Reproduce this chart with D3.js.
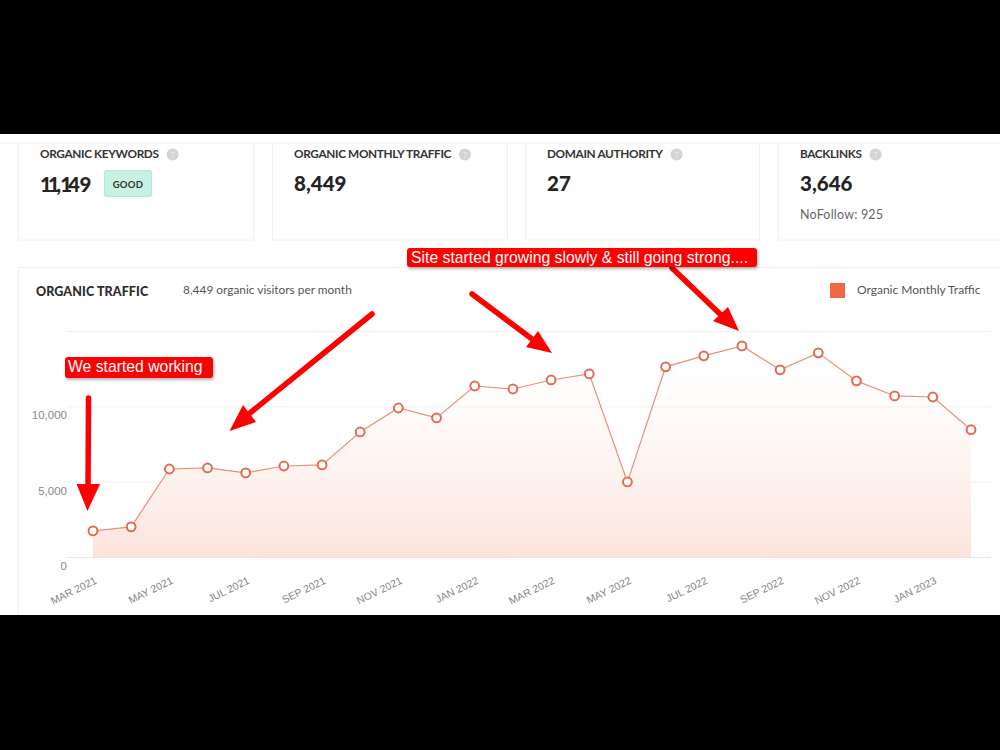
<!DOCTYPE html>
<html>
<head>
<meta charset="utf-8">
<script src="https://cdnjs.cloudflare.com/ajax/libs/d3/7.8.5/d3.min.js"></script>
<style>
html,body{margin:0;padding:0;background:#000;}
svg{display:block;}
</style>
</head>
<body>
<svg id="chart" width="1000" height="750"></svg>
<script>
// Monthly organic traffic, March 2021 to February 2023
const months = ["MAR 2021","APR 2021","MAY 2021","JUN 2021","JUL 2021","AUG 2021","SEP 2021","OCT 2021","NOV 2021","DEC 2021","JAN 2022","FEB 2022","MAR 2022","APR 2022","MAY 2022","JUN 2022","JUL 2022","AUG 2022","SEP 2022","OCT 2022","NOV 2022","DEC 2022","JAN 2023","FEB 2023"];
const traffic = [1730,2000,5840,5910,5580,6040,6110,8300,9890,9230,11350,11150,11750,12150,4980,12620,13350,14010,12420,13550,11690,10690,10620,8449];
const labelledMonths = ["MAR 2021","MAY 2021","JUL 2021","SEP 2021","NOV 2021","JAN 2022","MAR 2022","MAY 2022","JUL 2022","SEP 2022","NOV 2022","JAN 2023"];
const yTicks = [0,5000,10000,15000];

// Summary cards above the chart
const cardLefts = [18,272,525,778];
const cardWidths = [236,236,235,240];
const cardTitles = ["ORGANIC KEYWORDS","ORGANIC MONTHLY TRAFFIC","DOMAIN AUTHORITY","BACKLINKS"];
const cardValues = ["11,149","8,449","27","3,646"];

const svg = d3.select("#chart");
const bodyFont = "Lato, 'Open Sans', sans-serif";
const axisFont = "'Liberation Sans', Arial, sans-serif";

const defs = svg.append("defs");
const grad = defs.append("linearGradient").attr("id","areaFill").attr("x1",0).attr("y1",0).attr("x2",0).attr("y2",1);
grad.append("stop").attr("offset","0%").attr("stop-color","#ffffff");
grad.append("stop").attr("offset","28%").attr("stop-color","#fffcfb");
grad.append("stop").attr("offset","64%").attr("stop-color","#fef2ee");
grad.append("stop").attr("offset","100%").attr("stop-color","#fce4dc");

const shadow = defs.append("filter").attr("id","tagShadow").attr("x","-5%").attr("y","-20%").attr("width","110%").attr("height","150%");
shadow.append("feDropShadow").attr("dx",1).attr("dy",2).attr("stdDeviation",1.5).attr("flood-color","#000").attr("flood-opacity",0.3);

// White page band between the black bars
svg.append("rect").attr("x",0).attr("y",134).attr("width",1000).attr("height",481).attr("fill","#fff");
svg.append("line").attr("x1",0).attr("x2",1000).attr("y1",143).attr("y2",143).attr("stroke","#f1f1f1");

// Summary cards
const cards = svg.append("g").selectAll("g").data(cardTitles).join("g")
  .attr("transform",(d,i)=>`translate(${cardLefts[i]},143)`);
cards.append("path")
  .attr("d",(d,i)=>`M0.5,0V97H${cardWidths[i]-0.5}V0`)
  .attr("fill","none").attr("stroke","#f0f0f0");
cards.append("text").attr("x",22).attr("y",14.5)
  .attr("font-family",bodyFont).attr("font-weight",700).attr("font-size",11.8)
  .attr("letter-spacing",-0.35).attr("fill","#333").text(d=>d);
cards.each(function(d,i){
  const g = d3.select(this);
  const w = g.select("text").node().getComputedTextLength();
  const hint = g.append("g").attr("transform",`translate(${22+w+14},11.5)`);
  hint.append("circle").attr("r",6).attr("fill","#d4d4d4");
  hint.append("text").attr("y",3).attr("text-anchor","middle")
    .attr("font-family",bodyFont).attr("font-size",8).attr("fill","#f2f2f2").text("?");
});
// Lato's figures are tabular, so the narrow ones in the first value are closed up by hand
cards.append("text").attr("x",22).attr("y",(d,i)=>i===0?49:48)
  .attr("dx",(d,i)=>i===0?"0 -4 -3.5 -1 -4 -0.5":null)
  .attr("font-family",bodyFont).attr("font-weight",900).attr("font-size",20.5)
  .attr("fill","#242424").text((d,i)=>cardValues[i]);

// "GOOD" badge on the first card
svg.append("rect").attr("x",104.5).attr("y",170.5).attr("width",47).attr("height",26).attr("rx",1.5)
  .attr("fill","#c8f1e2").attr("stroke","#b5e8d5");
svg.append("text").attr("x",128).attr("y",187.5).attr("text-anchor","middle")
  .attr("font-family",bodyFont).attr("font-weight",700).attr("font-size",9.5).attr("letter-spacing",0.3)
  .attr("fill","#333").text("GOOD");
svg.append("text").attr("x",800).attr("y",218.5)
  .attr("font-family",bodyFont).attr("font-size",12.5).attr("letter-spacing",0.2).attr("fill","#666").text("NoFollow: 925");

// Chart card
svg.append("path").attr("d","M18.5,615V267.5H1000").attr("fill","none").attr("stroke","#f0f0f0");
svg.append("text").attr("x",36).attr("y",295.5)
  .attr("font-family",bodyFont).attr("font-weight",900).attr("font-size",12.5).attr("letter-spacing",0.1)
  .attr("fill","#2b2b2b").text("ORGANIC TRAFFIC");
svg.append("text").attr("x",183).attr("y",294)
  .attr("font-family",bodyFont).attr("font-size",11.9).attr("fill","#555").text("8,449 organic visitors per month");
svg.append("rect").attr("x",830).attr("y",283).attr("width",15).attr("height",15).attr("fill","#ef6a42");
svg.append("text").attr("x",857).attr("y",294)
  .attr("font-family",bodyFont).attr("font-size",12).attr("fill","#555").text("Organic Monthly Traffic");

// Scales
const x = d3.scalePoint().domain(months).range([93,971]);
const y = d3.scaleLinear().domain([0,15000]).range([557,331]);

// Y axis and grid lines
const yAxis = svg.append("g").attr("transform","translate(66,0)")
  .call(d3.axisRight(y).tickValues(yTicks).tickSize(925).tickFormat(d=>d===15000?"":d3.format(",")(d)));
yAxis.select(".domain").remove();
yAxis.selectAll(".tick line").attr("stroke",d=>d===0?"#e6e6e6":"#f1f1f1");
yAxis.selectAll(".tick text").attr("x",1).attr("dy",12.5).attr("text-anchor","end")
  .attr("font-family",axisFont).attr("font-size",11.5).attr("fill","#8a8a8a");

// Area under the line, fading upward
const area = d3.area().x((d,i)=>x(months[i])).y0(y(0)).y1(d=>y(d));
svg.append("path").datum(traffic).attr("d",area).attr("fill","url(#areaFill)");

// Grid lines stay faintly visible through the area
yAxis.raise();

const line = d3.line().x((d,i)=>x(months[i])).y(d=>y(d));
svg.append("path").datum(traffic).attr("d",line).attr("fill","none").attr("stroke","#ea9078").attr("stroke-width",1.2);

svg.append("g").selectAll("circle").data(traffic).join("circle")
  .attr("cx",(d,i)=>x(months[i])).attr("cy",d=>y(d)).attr("r",4.4)
  .attr("fill","#fff").attr("stroke","#e46a50").attr("stroke-width",2);

// X axis labels on alternate months
const xAxis = svg.append("g").attr("transform","translate(0,557)")
  .call(d3.axisBottom(x).tickValues(labelledMonths).tickSize(0));
xAxis.select(".domain").remove();
xAxis.selectAll(".tick text")
  .attr("text-anchor","end").attr("y",0).attr("dy",0)
  .attr("transform","translate(4,26) rotate(-26)")
  .attr("font-family",axisFont).attr("font-size",10.5).attr("fill","#858585");

// Red call-out arrows
const red = "#fe0000";
const callouts = [
  {from:[88.5,398], to:[88,487], head:[[76.5,484],[100,484],[87.5,511]]},
  {from:[372,314], to:[250,413], head:[[243,405],[256,422],[229.5,431]]},
  {from:[472,294], to:[532,339], head:[[526,347],[538,331],[552,353]]},
  {from:[672,268], to:[720,314], head:[[713,321],[728,307],[739,331]]}
];
const arrows = svg.append("g").selectAll("g").data(callouts).join("g");
arrows.append("line")
  .attr("x1",d=>d.from[0]).attr("y1",d=>d.from[1]).attr("x2",d=>d.to[0]).attr("y2",d=>d.to[1])
  .attr("stroke",red).attr("stroke-width",5.5).attr("stroke-linecap","round");
arrows.append("polygon").attr("points",d=>d.head.map(p=>p.join(",")).join(" ")).attr("fill",red);

// Red text tags
const tags = [
  {x:65,y:357,w:148,h:21,tx:68,ty:372,text:"We started working"},
  {x:407,y:248,w:350,h:19,tx:411,ty:262.5,text:"Site started growing slowly & still going strong...."}
];
const tagG = svg.append("g").selectAll("g").data(tags).join("g");
tagG.append("rect").attr("x",d=>d.x).attr("y",d=>d.y).attr("width",d=>d.w).attr("height",d=>d.h)
  .attr("rx",3).attr("fill",red).attr("filter","url(#tagShadow)");
tagG.append("text").attr("x",d=>d.tx).attr("y",d=>d.ty)
  .attr("font-family",axisFont).attr("font-size",15.75).attr("fill","#fff").text(d=>d.text);
</script>
</body>
</html>
